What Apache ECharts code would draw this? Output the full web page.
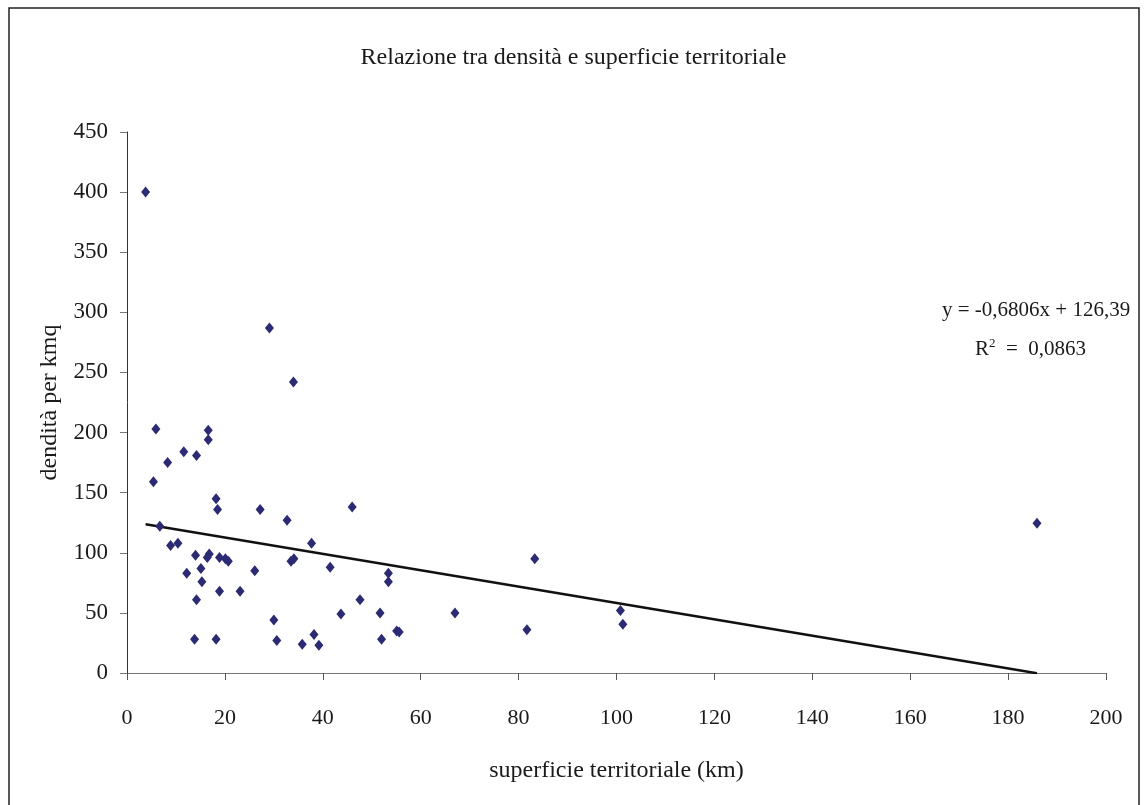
<!DOCTYPE html>
<html>
<head>
<meta charset="utf-8">
<script src="https://cdn.jsdelivr.net/npm/echarts@6/dist/echarts.min.js"></script>
<style>
  html, body { margin: 0; padding: 0; background: #fff; }
  #chart { width: 1147px; height: 805px; }
</style>
</head>
<body>
<div id="chart"></div>
<script>
// superficie (km) e densità per kmq
const superficie = [
  3.8, 5.9, 5.4, 8.3, 11.6, 14.2, 16.6, 16.6, 6.7, 8.9, 10.4, 18.2, 18.5, 27.2,
  32.7, 37.7, 14.0, 16.4, 16.8, 18.9, 20.1, 20.7, 12.2, 15.1, 15.3, 14.2, 18.9,
  23.1, 26.1, 33.5, 34.1, 13.8, 18.2, 30.0, 30.6, 35.8, 38.2, 39.2, 29.1, 34.0,
  46.0, 41.5, 53.4, 53.4, 47.6, 43.7, 51.7, 52.0, 55.1, 55.6, 67.0, 81.7, 83.3,
  100.8, 101.3, 185.9
];
const densita = [
  400, 203, 159, 175, 184, 181, 202, 194, 122, 106, 108, 145, 136, 136,
  127, 108, 98, 96, 99, 96, 95, 93, 83, 87, 76, 61, 68,
  68, 85, 93, 95, 28, 28, 44, 27, 24, 32, 23, 287, 242,
  138, 88, 83, 76, 61, 49, 50, 28, 35, 34, 50, 36, 95,
  52, 40.5, 124.5
];
// retta di tendenza lineare (dal grafico)
const slope = -0.6806;
const intercept = 126.39;

const points = superficie.map((x, i) => [x, densita[i]]);
const xMin = Math.min(...superficie);
const xMax = Math.max(...superficie);
const trend = [[xMin, slope * xMin + intercept], [xMax, slope * xMax + intercept]];

const FONT = "'Liberation Serif', 'DejaVu Serif', serif";

const chart = echarts.init(document.getElementById("chart"));
chart.setOption({
  animation: false,
  textStyle: { fontFamily: FONT },
  title: {
    text: "Relazione tra densità e superficie territoriale",
    left: "center",
    top: 41,
    textStyle: { fontFamily: FONT, fontSize: 24, fontWeight: "normal", color: "#1a1a1a" },
  },
  grid: { left: 127, right: 41, top: 132, bottom: 132 },
  xAxis: {
    type: "value",
    min: 0,
    max: 200,
    interval: 20,
    name: "superficie territoriale (km)",
    nameLocation: "middle",
    nameGap: 86,
    nameTextStyle: { fontFamily: FONT, fontSize: 24, color: "#1a1a1a" },
    axisLine: { show: true, lineStyle: { color: "#777", width: 1 } },
    axisTick: { show: true, inside: false, length: 7, lineStyle: { color: "#555" } },
    axisLabel: { fontFamily: FONT, fontSize: 22, color: "#1a1a1a", margin: 34 },
    splitLine: { show: false },
  },
  yAxis: {
    type: "value",
    min: 0,
    max: 450,
    interval: 50,
    name: "dendità per kmq",
    nameLocation: "middle",
    nameGap: 65,
    nameTextStyle: { fontFamily: FONT, fontSize: 24, color: "#1a1a1a" },
    axisLine: { show: true, lineStyle: { color: "#333", width: 1 } },
    axisTick: { show: true, inside: false, length: 7, lineStyle: { color: "#777" } },
    axisLabel: { fontFamily: FONT, fontSize: 23, color: "#1a1a1a", margin: 19 },
    splitLine: { show: false },
  },
  series: [
    {
      name: "densità",
      type: "scatter",
      data: points,
      symbol: "diamond",
      symbolSize: [9, 11],
      itemStyle: { color: "#2b2a73", opacity: 1 },
      z: 3,
    },
    {
      name: "tendenza",
      type: "line",
      data: trend,
      showSymbol: false,
      symbol: "none",
      lineStyle: { color: "#111", width: 2.5 },
      z: 2,
    },
  ],
  graphic: [
    {
      type: "rect",
      shape: { x: 9, y: 8, width: 1130, height: 810 },
      style: { fill: "none", stroke: "#222", lineWidth: 1.5 },
      silent: true,
    },
    {
      type: "text",
      left: 942,
      top: 300,
      style: {
        text: "y = -0,6806x + 126,39",
        font: "21px " + FONT,
        fill: "#1a1a1a",
      },
    },
    {
      type: "text",
      left: 975,
      top: 337,
      style: {
        text: "{r|R}{s|2}{r|  =  0,0863}",
        rich: {
          r: { font: "21px " + FONT, fill: "#1a1a1a", verticalAlign: "bottom" },
          s: { font: "13px " + FONT, fill: "#1a1a1a", verticalAlign: "top", padding: [0, 0, 10, 0] },
        },
      },
    },
  ],
});
</script>
</body>
</html>
